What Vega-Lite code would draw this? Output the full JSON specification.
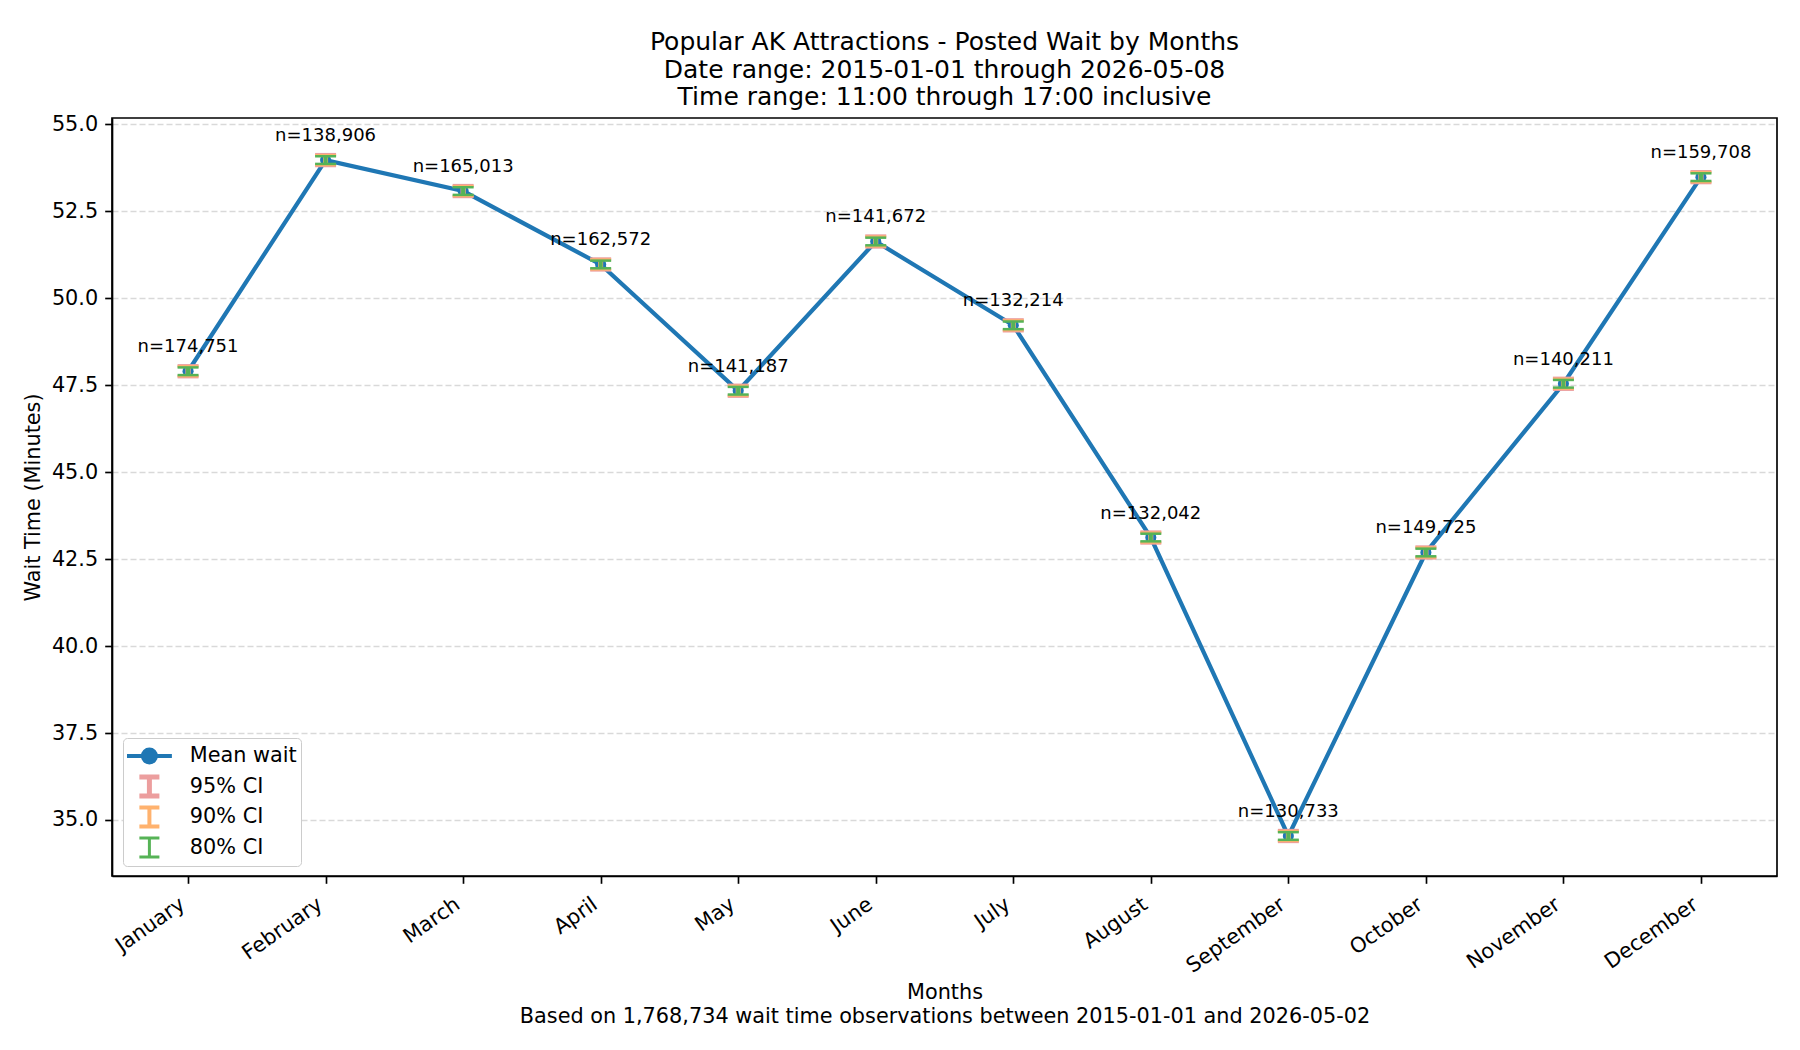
{
  "$schema": "https://vega.github.io/schema/vega-lite/v6.json",
  "autosize": {"type": "none"},
  "width": 1665,
  "height": 758,
  "padding": {"left": 112, "top": 118, "right": 23, "bottom": 174},
  "background": "white",
  "title": {
    "text": ["Popular AK Attractions - Posted Wait by Months", "Date range: 2015-01-01 through 2026-05-08", "Time range: 11:00 through 17:00 inclusive"],
    "font": "DejaVu Sans",
    "fontSize": 25,
    "fontWeight": "normal",
    "color": "black",
    "lineHeight": 27.5,
    "anchor": "middle",
    "offset": 3
  },
  "datasets": {
    "means": [
      {"month": "January", "mean": 47.90, "label": "n=174,751"},
      {"month": "February", "mean": 53.97, "label": "n=138,906"},
      {"month": "March", "mean": 53.08, "label": "n=165,013"},
      {"month": "April", "mean": 50.97, "label": "n=162,572"},
      {"month": "May", "mean": 47.34, "label": "n=141,187"},
      {"month": "June", "mean": 51.63, "label": "n=141,672"},
      {"month": "July", "mean": 49.22, "label": "n=132,214"},
      {"month": "August", "mean": 43.12, "label": "n=132,042"},
      {"month": "September", "mean": 34.54, "label": "n=130,733"},
      {"month": "October", "mean": 42.69, "label": "n=149,725"},
      {"month": "November", "mean": 47.54, "label": "n=140,211"},
      {"month": "December", "mean": 53.48, "label": "n=159,708"}
    ],
    "ci": [
      {"month": "January", "level": "95% CI", "lo": 47.73, "hi": 48.07},
      {"month": "February", "level": "95% CI", "lo": 53.80, "hi": 54.14},
      {"month": "March", "level": "95% CI", "lo": 52.91, "hi": 53.25},
      {"month": "April", "level": "95% CI", "lo": 50.80, "hi": 51.14},
      {"month": "May", "level": "95% CI", "lo": 47.17, "hi": 47.51},
      {"month": "June", "level": "95% CI", "lo": 51.46, "hi": 51.80},
      {"month": "July", "level": "95% CI", "lo": 49.05, "hi": 49.39},
      {"month": "August", "level": "95% CI", "lo": 42.95, "hi": 43.29},
      {"month": "September", "level": "95% CI", "lo": 34.37, "hi": 34.71},
      {"month": "October", "level": "95% CI", "lo": 42.52, "hi": 42.86},
      {"month": "November", "level": "95% CI", "lo": 47.37, "hi": 47.71},
      {"month": "December", "level": "95% CI", "lo": 53.31, "hi": 53.65},
      {"month": "January", "level": "90% CI", "lo": 47.76, "hi": 48.04},
      {"month": "February", "level": "90% CI", "lo": 53.83, "hi": 54.11},
      {"month": "March", "level": "90% CI", "lo": 52.94, "hi": 53.22},
      {"month": "April", "level": "90% CI", "lo": 50.83, "hi": 51.11},
      {"month": "May", "level": "90% CI", "lo": 47.20, "hi": 47.48},
      {"month": "June", "level": "90% CI", "lo": 51.49, "hi": 51.77},
      {"month": "July", "level": "90% CI", "lo": 49.08, "hi": 49.36},
      {"month": "August", "level": "90% CI", "lo": 42.98, "hi": 43.26},
      {"month": "September", "level": "90% CI", "lo": 34.40, "hi": 34.68},
      {"month": "October", "level": "90% CI", "lo": 42.55, "hi": 42.83},
      {"month": "November", "level": "90% CI", "lo": 47.40, "hi": 47.68},
      {"month": "December", "level": "90% CI", "lo": 53.34, "hi": 53.62},
      {"month": "January", "level": "80% CI", "lo": 47.79, "hi": 48.01},
      {"month": "February", "level": "80% CI", "lo": 53.86, "hi": 54.08},
      {"month": "March", "level": "80% CI", "lo": 52.97, "hi": 53.19},
      {"month": "April", "level": "80% CI", "lo": 50.86, "hi": 51.08},
      {"month": "May", "level": "80% CI", "lo": 47.23, "hi": 47.45},
      {"month": "June", "level": "80% CI", "lo": 51.52, "hi": 51.74},
      {"month": "July", "level": "80% CI", "lo": 49.11, "hi": 49.33},
      {"month": "August", "level": "80% CI", "lo": 43.01, "hi": 43.23},
      {"month": "September", "level": "80% CI", "lo": 34.43, "hi": 34.65},
      {"month": "October", "level": "80% CI", "lo": 42.58, "hi": 42.80},
      {"month": "November", "level": "80% CI", "lo": 47.43, "hi": 47.65},
      {"month": "December", "level": "80% CI", "lo": 53.37, "hi": 53.59}
    ]
  },
  "encoding": {
    "x": {
      "field": "month",
      "type": "nominal",
      "scale": {"type": "point", "padding": 0.553, "domain": ["January", "February", "March", "April", "May", "June", "July", "August", "September", "October", "November", "December"]},
      "axis": {
        "title": ["Months", "Based on 1,768,734 wait time observations between 2015-01-01 and 2026-05-02"],
        "titleLineHeight": 24,
        "labelAngle": -35,
        "labelAlign": "right",
        "labelBaseline": "bottom",
        "labelPadding": 27,
        "titlePadding": 6.5,
        "grid": false
      }
    }
  },
  "layer": [
    {
      "data": {"name": "means"},
      "mark": {"type": "line", "strokeWidth": 4.2},
      "encoding": {
        "y": {
          "field": "mean",
          "type": "quantitative",
          "scale": {"domain": [33.39, 55.18], "nice": false, "zero": false},
          "axis": {
            "title": "Wait Time (Minutes)",
            "values": [35, 37.5, 40, 42.5, 45, 47.5, 50, 52.5, 55],
            "format": ".1f",
            "grid": true,
            "gridDash": [6, 3],
            "gridColor": "#d9d9d9",
            "gridWidth": 1.4,
            "titlePadding": 8
          }
        },
        "color": {
          "datum": "Mean wait",
          "type": "nominal",
          "scale": {"domain": ["Mean wait", "95% CI", "90% CI", "80% CI"], "range": ["#1f77b4", "#ec9e9e", "#ffb26e", "#56b356"]},
          "legend": {
            "title": null,
            "orient": "none",
            "legendX": 11,
            "legendY": 620,
            "fillColor": "white",
            "strokeColor": "#cccccc",
            "cornerRadius": 4,
            "padding": 4,
            "symbolSize": 676,
            "symbolOffset": 12,
            "labelOffset": 30,
            "rowPadding": 2.5,
            "clipHeight": 28,
            "labelFont": "DejaVu Sans",
            "labelFontSize": 20.8,
            "labelColor": "black",
            "symbolStrokeWidth": 1.5,
            "encode": {
              "symbols": {
                "update": {
                  "shape": {"signal": "datum.value === 'Mean wait' ? 'M-1.73,0H1.73M0.5,0A0.5,0.5,0,1,1,-0.5,0A0.5,0.5,0,1,1,0.5,0' : 'M-0.77,-0.74H0.77M0,-0.74V0.74M-0.77,0.74H0.77'"},
                  "fill": {"signal": "datum.value === 'Mean wait' ? '#1f77b4' : 'transparent'"},
                  "stroke": {"signal": "datum.value === 'Mean wait' ? '#1f77b4' : datum.value === '95% CI' ? '#ec9e9e' : datum.value === '90% CI' ? '#ffb26e' : '#56b356'"},
                  "strokeWidth": {"signal": "datum.value === 'Mean wait' ? 4 : datum.value === '95% CI' ? 5 : datum.value === '90% CI' ? 4 : 3"},
                  "opacity": {"value": 1},
                  "size": {"value": 676}
                }
              }
            }
          }
        }
      }
    },
    {
      "data": {"name": "means"},
      "mark": {"type": "point", "filled": true, "shape": "circle", "size": 123, "opacity": 1, "color": "#1f77b4"},
      "encoding": {"y": {"field": "mean", "type": "quantitative"}}
    },
    {
      "data": {"name": "ci"},
      "mark": {"type": "rule"},
      "encoding": {
        "y": {"field": "lo", "type": "quantitative"},
        "y2": {"field": "hi"},
        "color": {
          "field": "level",
          "type": "nominal",
          "legend": {
            "title": null,
            "orient": "none",
            "legendX": 11,
            "legendY": 620,
            "fillColor": "white",
            "strokeColor": "#cccccc",
            "cornerRadius": 4,
            "padding": 4,
            "symbolSize": 676,
            "symbolOffset": 12,
            "labelOffset": 30,
            "rowPadding": 2.5,
            "clipHeight": 28,
            "labelFont": "DejaVu Sans",
            "labelFontSize": 20.8,
            "labelColor": "black",
            "symbolStrokeWidth": 1.5,
            "encode": {
              "symbols": {
                "update": {
                  "shape": {"signal": "datum.value === 'Mean wait' ? 'M-1.73,0H1.73M0.5,0A0.5,0.5,0,1,1,-0.5,0A0.5,0.5,0,1,1,0.5,0' : 'M-0.77,-0.74H0.77M0,-0.74V0.74M-0.77,0.74H0.77'"},
                  "fill": {"signal": "datum.value === 'Mean wait' ? '#1f77b4' : 'transparent'"},
                  "stroke": {"signal": "datum.value === 'Mean wait' ? '#1f77b4' : datum.value === '95% CI' ? '#ec9e9e' : datum.value === '90% CI' ? '#ffb26e' : '#56b356'"},
                  "strokeWidth": {"signal": "datum.value === 'Mean wait' ? 4 : datum.value === '95% CI' ? 5 : datum.value === '90% CI' ? 4 : 3"},
                  "opacity": {"value": 1},
                  "size": {"value": 676}
                }
              }
            }
          }
        },
        "strokeWidth": {"field": "level", "type": "nominal", "scale": {"domain": ["95% CI", "90% CI", "80% CI"], "range": [5, 4, 3]}, "legend": null}
      }
    },
    {
      "data": {"name": "ci"},
      "mark": {"type": "tick", "orient": "horizontal", "size": 21, "thickness": 2.5, "opacity": 1},
      "encoding": {
        "y": {"field": "lo", "type": "quantitative"},
        "color": {"field": "level", "type": "nominal", "legend": {"title": null}}
      }
    },
    {
      "data": {"name": "ci"},
      "mark": {"type": "tick", "orient": "horizontal", "size": 21, "thickness": 2.5, "opacity": 1},
      "encoding": {
        "y": {"field": "hi", "type": "quantitative"},
        "color": {"field": "level", "type": "nominal", "legend": {"title": null}}
      }
    },
    {
      "data": {"name": "means"},
      "mark": {"type": "text", "font": "DejaVu Sans", "fontSize": 18, "color": "black", "baseline": "alphabetic", "align": "center", "dy": -19},
      "encoding": {
        "y": {"field": "mean", "type": "quantitative"},
        "text": {"field": "label", "type": "nominal"}
      }
    }
  ],
  "config": {
    "view": {"stroke": "black", "strokeWidth": 1.67},
    "axis": {
      "labelFont": "DejaVu Sans",
      "labelFontSize": 20.8,
      "labelColor": "black",
      "titleFont": "DejaVu Sans",
      "titleFontSize": 20.8,
      "titleFontWeight": "normal",
      "titleColor": "black",
      "tickColor": "black",
      "tickSize": 7.3,
      "tickWidth": 1.67,
      "domainColor": "black",
      "domainWidth": 1.67,
      "labelPadding": 7
    }
  }
}
